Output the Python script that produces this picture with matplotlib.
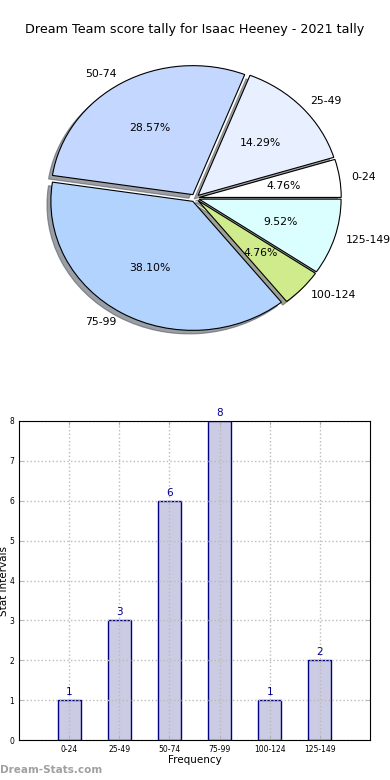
import matplotlib
matplotlib.use("Agg")
from matplotlib import pyplot as plt

intervals = ["0-24", "25-49", "50-74", "75-99", "100-124", "125-149"]
counts = [1, 3, 6, 8, 1, 2]
pie_colors = ["#ffffff", "#e8f0ff", "#c4d8ff", "#b3d3ff", "#d0eb8b", "#dbffff"]

fig = plt.figure(figsize=(3.9, 7.8), dpi=100)
fig.patch.set_facecolor("white")

# pie chart, top half (slightly stretched horizontally like the original)
W, H = 390.0, 780.0
ax_top, ax_bot = 40.0, 360.0
cx, cy, rx, ry = 195.0, 198.0, 142.0, 129.0
ax1 = fig.add_axes([0, 1 - ax_bot / H, 1, (ax_bot - ax_top) / H])
wedges, texts, autotexts = ax1.pie(
    counts, labels=intervals, colors=pie_colors, autopct="%1.2f%%",
    explode=[0.03] * 6, shadow=True, startangle=0, labeldistance=1.08,
    wedgeprops=dict(edgecolor="black", linewidth=0.8),
    textprops=dict(fontsize=7.8),
)
ax1.set_aspect("auto")
ax1.set_xlim(-cx / rx, (W - cx) / rx)
ax1.set_ylim(-(ax_bot - cy) / ry, (cy - ax_top) / ry)
ax1.axis("off")

fig.text(0.5, 1 - 30 / H, "Dream Team score tally for Isaac Heeney - 2021 tally",
         ha="center", va="center", fontsize=9.2)

# bar chart, bottom half
ax2 = fig.add_axes([19 / W, 40 / H, 351 / W, 319 / H])
x = list(range(len(intervals)))
bars = ax2.bar(x, counts, width=0.46, color="#cbcbe3", edgecolor="navy", linewidth=1)
for xi, c in zip(x, counts):
    ax2.text(xi, c + 0.08, str(c), ha="center", va="bottom", fontsize=7.5, color="darkblue")
ax2.set_xlim(-1, 6)
ax2.set_ylim(0, 8)
ax2.set_xticks(x)
ax2.set_xticklabels(intervals, fontsize=5.5)
ax2.set_yticks(range(0, 9))
ax2.tick_params(axis="y", labelsize=5.5)
ax2.tick_params(direction="in", top=True, right=True, length=3, width=0.6, color="#aaaaaa")
ax2.grid(True, linestyle=":", color="#bbbbbb", linewidth=1)
for sp in ax2.spines.values():
    sp.set_zorder(5)
ax2.set_xlabel("Frequency", fontsize=7.5, labelpad=1)
ax2.set_ylabel("Stat Intervals", fontsize=7.5, labelpad=0)

fig.text(0.0, 1 - 770 / H, "Dream-Stats.com", ha="left", va="center",
         fontsize=7.5, color="#a0a0a0", fontweight="bold")

fig.savefig("out.png", dpi=100)
